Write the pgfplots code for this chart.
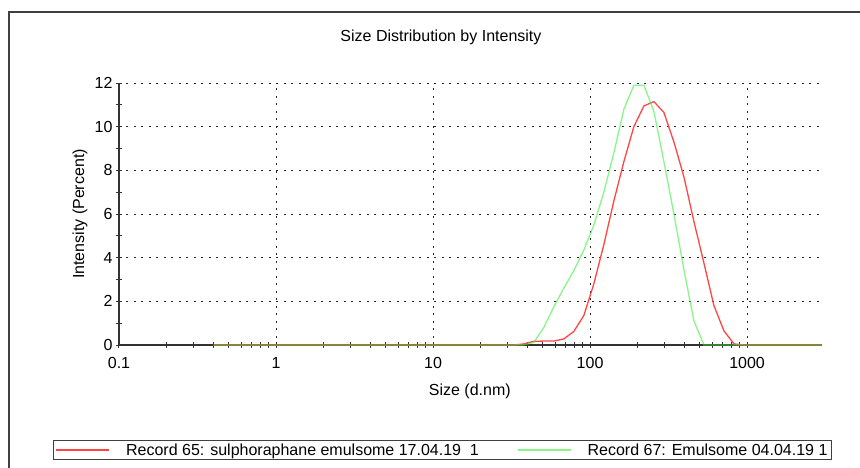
\documentclass[border=0pt]{standalone}
\usepackage{fontspec}
\setmainfont{Liberation Sans}
\usepackage{pgfplots}
\usepackage{pgfplotstable}
\pgfplotsset{compat=1.18}
\definecolor{recred}{RGB}{255,70,70}
\definecolor{recgreen}{RGB}{60,240,60}

% size (d.nm), intensity (%) for record 65 and record 67
\pgfplotstableread{
size   rec65  rec67
0.4    0      0
0.4632 0      0
0.5365 0      0
0.6213 0      0
0.7195 0      0
0.8332 0      0
0.9649 0      0
1.117  0      0
1.294  0      0
1.499  0      0
1.736  0      0
2.010  0      0
2.328  0      0
2.696  0      0
3.122  0      0
3.615  0      0
4.187  0      0
4.849  0      0
5.615  0      0
6.503  0      0
7.531  0      0
8.721  0      0
10.10  0      0
11.70  0      0
13.54  0      0
15.69  0      0
18.17  0      0
21.04  0      0
24.36  0      0
28.21  0      0
32.67  0      0
37.84  0.05   0
43.82  0.17   0.12
50.75  0.18   0.8
58.77  0.18   1.75
68.06  0.28   2.6
78.82  0.62   3.4
91.28  1.35   4.35
105.7  2.8    5.5
122.4  4.6    7.0
141.8  6.6    8.8
164.2  8.4    10.8
190.1  10.0   11.9
220.2  10.95  11.9
255.0  11.15  10.7
295.3  10.65  8.4
342.0  9.3    6.0
396.1  7.7    3.45
458.7  5.65   1.1
531.2  3.75   0
615.1  1.8    0
712.4  0.65   0
825.0  0.05   0
955.4  0      0
1106   0      0
1281   0      0
1484   0      0
1718   0      0
1990   0      0
2305   0      0
2669   0      0
3091   0      0
}\dlsdata

\begin{document}
\begin{tikzpicture}[x=1pt,y=1pt]
\path[use as bounding box] (0,0) rectangle (860,-468);
\draw[black!75, line width=1.5pt] (9,-480) -- (9,-12) -- (880,-12);
\begin{axis}[
  at={(119pt,-345pt)}, anchor=south west,
  scale only axis, width=703pt, height=262pt,
  xmode=log, xmin=0.1, xmax=3000, ymin=0, ymax=12,
  axis x line*=bottom, axis y line*=left,
  axis line style={black!80, line width=1.2pt},
  xtick={0.1,1,10,100,1000}, xticklabels={0.1,1,10,100,1000},
  ytick={0,2,...,12}, minor y tick num=1,
  tick align=center, major tick length=6pt, minor tick length=6pt,
  tick style={black!80, line width=1pt},
  grid=major, grid style={black!85, line width=0.9pt, dash pattern=on 2pt off 5.5pt},
  /pgf/number format/assume math mode=true,
  tick label style={font=\fontsize{16}{19}\selectfont},
  xticklabel style={yshift=-6pt},
  title={Size Distribution by Intensity},
  title style={at={(axis description cs:0.458,1.152)}, anchor=center, font=\fontsize{16}{19}\selectfont},
  xlabel={Size (d.nm)}, ylabel={Intensity (Percent)},
  every axis x label/.style={at={(axis description cs:0.499,-0.178)}, anchor=center, font=\fontsize{16}{19}\selectfont},
  every axis y label/.style={at={(axis description cs:-0.0555,0.5)}, anchor=center, rotate=90, font=\fontsize{16}{19}\selectfont},
  legend columns=2,
  legend image code/.code={\draw[#1] (0pt,0pt) -- (53pt,0pt); \path[draw=none] (0pt,0pt) -- (68pt,0pt);},
  legend style={at={(axis description cs:-0.0939,-0.3626)}, anchor=north west,
    draw=black!75, line width=1pt, font=\fontsize{16}{19}\selectfont,
    inner xsep=2pt, inner ysep=1pt,
    /tikz/every even column/.append style={column sep=36pt}},
  legend cell align=left,
]
\addplot[recred, line width=1.3pt] table[x=size, y=rec65] {\dlsdata};
\addlegendentry{Record 65: sulphoraphane emulsome 17.04.19\ \ 1}
\addplot[recgreen, line width=1.3pt, opacity=0.6] table[x=size, y=rec67] {\dlsdata};
\addlegendentry{Record 67: Emulsome 04.04.19 1}
\end{axis}
\end{tikzpicture}
\end{document}
